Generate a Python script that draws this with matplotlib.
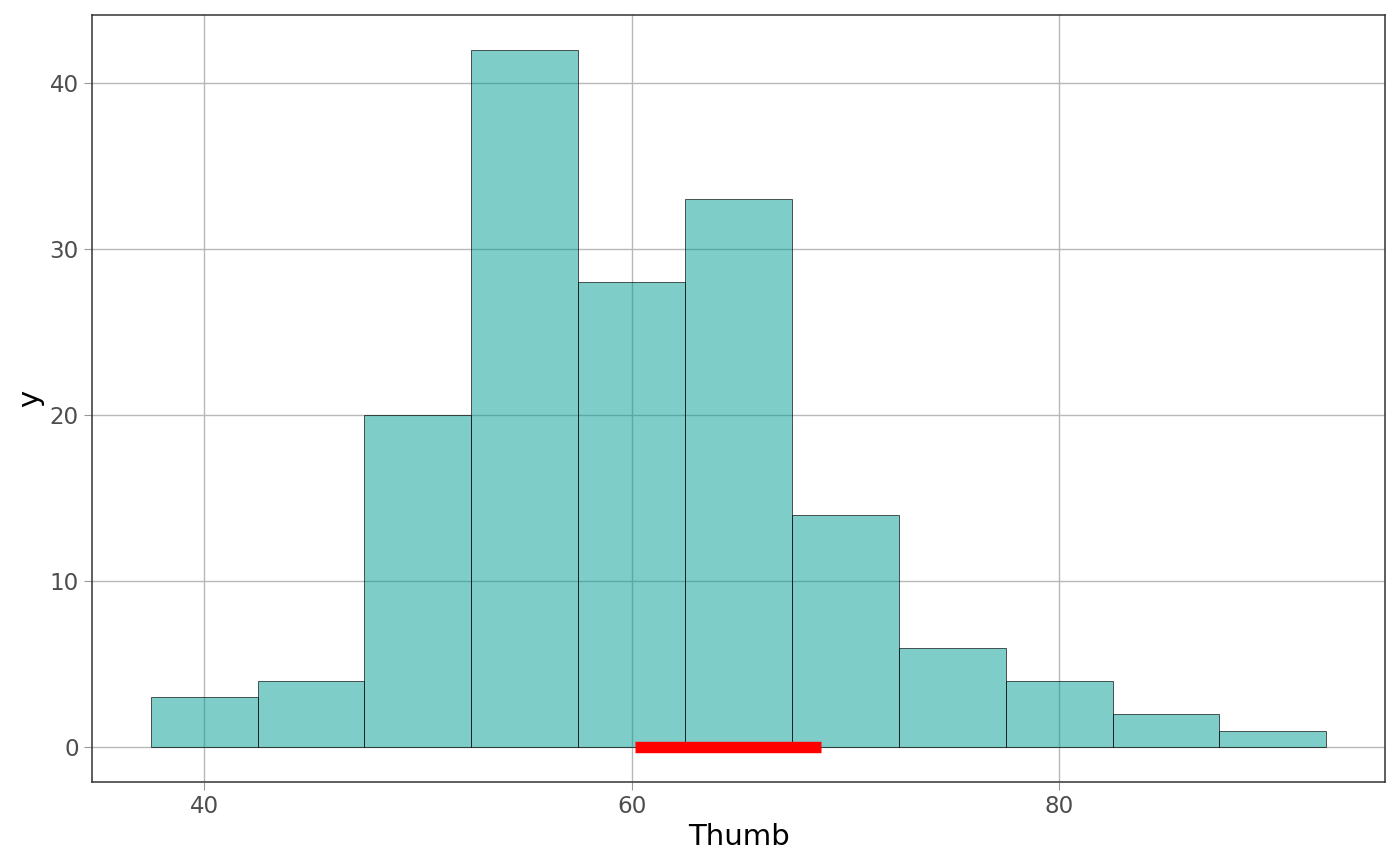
import matplotlib
matplotlib.use("Agg")
import matplotlib.pyplot as plt
import numpy as np

# Data
bin_centers = [40, 45, 50, 55, 60, 65, 70, 75, 80, 85, 90]
counts = [3, 4, 20, 42, 28, 33, 14, 6, 4, 2, 1]
bin_width = 5
interval = [60.15, 68.85]
x_ticks = [40, 60, 80]
y_ticks = [0, 10, 20, 30, 40]

plt.rcParams['font.family'] = ['DejaVu Sans']

fig = plt.figure(figsize=(14, 8.66), dpi=100)
ax = fig.add_axes([92/1400, 1-782/866, (1385-92)/1400, (782-15)/866])

ax.set_axisbelow(True)
ax.grid(True, color="#b8b8b8", linewidth=1.0)

ax.bar(bin_centers, counts, width=bin_width, align="center",
       facecolor=(0.0, 0.61, 0.58, 0.5), edgecolor=(0, 0, 0, 0.65),
       linewidth=0.7, zorder=2)

ax.plot(interval, [0, 0], color="red", linewidth=8.2, solid_capstyle="butt", zorder=3)

lo = min(c - bin_width/2 for c in bin_centers)
hi = max(c + bin_width/2 for c in bin_centers)
xr = hi - lo
ax.set_xlim(lo - 0.05*xr, hi + 0.05*xr)
ymax = max(counts)
ax.set_ylim(-0.05*ymax, ymax*1.05)

ax.set_xticks(x_ticks)
ax.set_yticks(y_ticks)
ax.tick_params(axis="both", labelcolor="#4d4d4d", labelsize=16.6, length=6, width=0.8,
               pad=3.5, color="#999999")

for s in ax.spines.values():
    s.set_color("#333333")
    s.set_linewidth(1.1)

ax.set_xlabel("Thumb", fontsize=21, color="black", labelpad=3.5)
ax.set_ylabel("y", fontsize=21, color="black", labelpad=4)

fig.savefig("out.png", dpi=100, facecolor="white")
